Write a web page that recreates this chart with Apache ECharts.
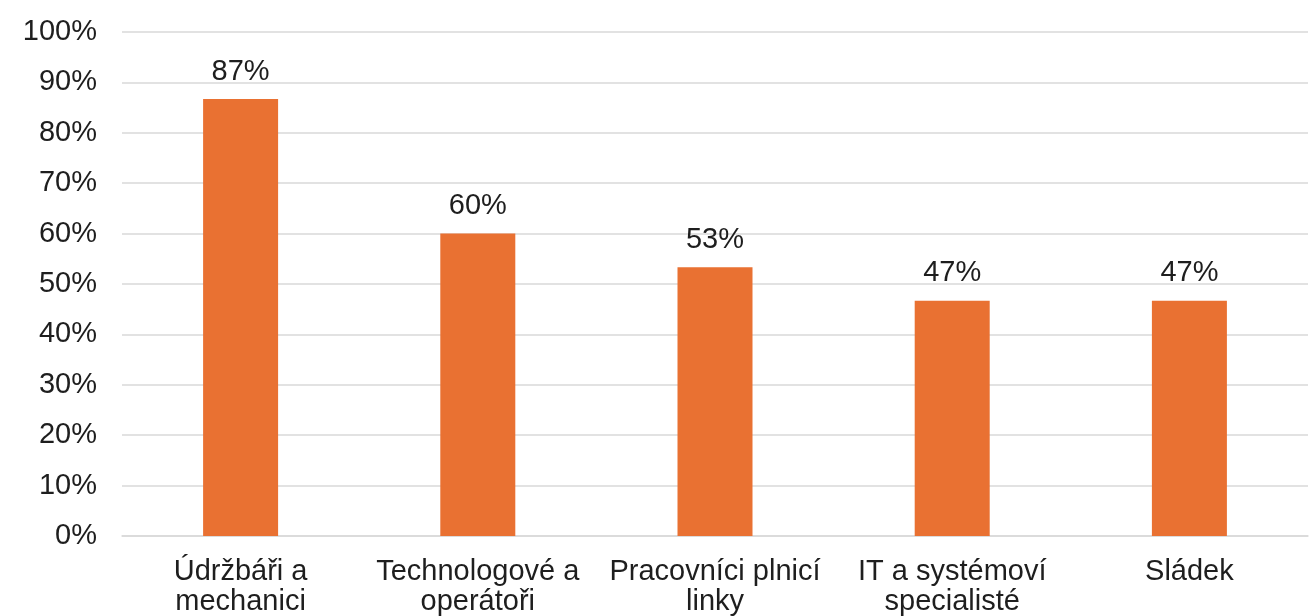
<!DOCTYPE html>
<html>
<head>
<meta charset="utf-8">
<script src="https://cdn.jsdelivr.net/npm/echarts@6/dist/echarts.min.js"></script>
<style>
html,body{margin:0;padding:0;background:#fff;}
#chart{width:1309px;height:616px;}
</style>
</head>
<body>
<div id="chart"></div>
<script>
var categories = ['Údržbáři a\nmechanici', 'Technologové a\noperátoři', 'Pracovníci plnicí\nlinky', 'IT a systémoví\nspecialisté', 'Sládek'];
var values = [86.7, 60.0, 53.3, 46.7, 46.7];
var yTicks = [0, 10, 20, 30, 40, 50, 60, 70, 80, 90, 100];

var font = 'Liberation Sans, Arial, sans-serif';
var chart = echarts.init(document.getElementById('chart'));
chart.setOption({
  animation: false,
  backgroundColor: '#ffffff',
  grid: { left: 122, right: 1, top: 32, bottom: 80, containLabel: false, outerBoundsMode: 'none' },
  xAxis: {
    type: 'category',
    data: categories,
    axisLine: { show: true, lineStyle: { color: '#d9d9d9', width: 1.5 } },
    axisTick: { show: false },
    axisLabel: { color: '#1e1e1e', fontSize: 29, fontFamily: font, margin: 21, lineHeight: 30, interval: 0 }
  },
  yAxis: {
    type: 'value',
    min: yTicks[0],
    max: yTicks[yTicks.length - 1],
    interval: 10,
    axisLine: { show: false },
    axisTick: { show: false },
    splitLine: { lineStyle: { color: '#d9d9d9', width: 1.5 } },
    axisLabel: { color: '#1e1e1e', fontSize: 29, fontFamily: font, margin: 25, formatter: function (v) { return v + '%'; } }
  },
  series: [{
    type: 'bar',
    data: values,
    barWidth: 75,
    itemStyle: { color: '#E97132' },
    label: {
      show: true,
      position: 'top',
      distance: 13,
      color: '#1e1e1e',
      fontSize: 29,
      fontFamily: font,
      formatter: function (p) { return Math.round(p.value) + '%'; }
    }
  }]
});
</script>
</body>
</html>
